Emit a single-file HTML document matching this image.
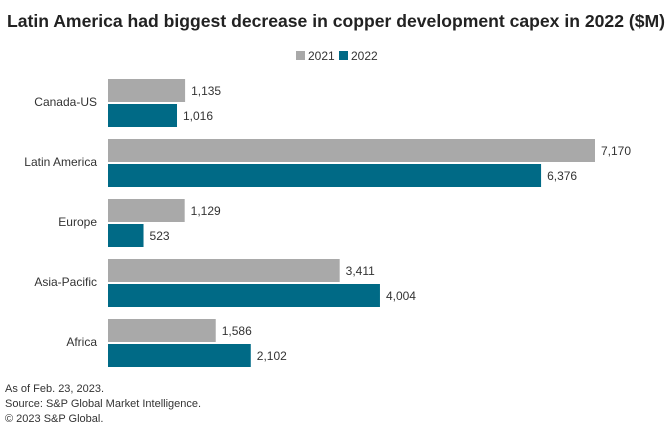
<!DOCTYPE html>
<html><head><meta charset="utf-8"><style>
body{margin:0;background:#fff;font-family:"Liberation Sans",sans-serif;}
svg text{font-family:"Liberation Sans",sans-serif;}
</style></head><body>
<svg id="chart" width="672" height="435">
<text x="7" y="27" font-size="17.5" font-weight="bold" fill="#222" textLength="658" lengthAdjust="spacingAndGlyphs">Latin America had biggest decrease in copper development capex in 2022 ($M)</text>
<g>
<rect x="296" y="51" width="9" height="9" fill="#a9a9a9"/>
<text x="308" y="60" font-size="12" fill="#333">2021</text>
<rect x="339" y="51" width="9" height="9" fill="#006a86"/>
<text x="351" y="60" font-size="12" fill="#333">2022</text>
</g>
<g id="bars"></g>
<text x="5" y="392" font-size="11" fill="#333">As of Feb. 23, 2023.</text>
<text x="5" y="407" font-size="11" fill="#333">Source: S&amp;P Global Market Intelligence.</text>
<text x="5" y="422" font-size="11" fill="#333">© 2023 S&amp;P Global.</text>
</svg>
<script>
const categories=["Canada-US","Latin America","Europe","Asia-Pacific","Africa"];
const values2021=[1135,7170,1129,3411,1586];
const values2022=[1016,6376,523,4004,2102];
const ns="http://www.w3.org/2000/svg";
const x0=108, scale=(595-108)/7170;
const xAxis=v=>v*scale;
const yBand=i=>79+i*60;
const g=document.getElementById("bars");
function mk(t,a){const e=document.createElementNS(ns,t);for(const k in a)e.setAttribute(k,a[k]);g.appendChild(e);return e;}
categories.forEach((c,i)=>{
  const y=yBand(i);
  const l=mk("text",{x:97,y:y+27,"font-size":12,fill:"#333","text-anchor":"end"});
  l.textContent=c;
  
  
  [[values2021[i],"#a9a9a9",0,"2021"],[values2022[i],"#006a86",25,"2022"]].forEach(([v,col,off,s])=>{
    const r=mk("rect",{x:x0,y:y+off,width:xAxis(v),height:23,fill:col});
    
    
    const t=mk("text",{x:x0+xAxis(v)+6,y:y+off+16,"font-size":12,fill:"#333"});
    t.textContent=v.toLocaleString("en-US");
    
    
  });
});
</script>
</body></html>
